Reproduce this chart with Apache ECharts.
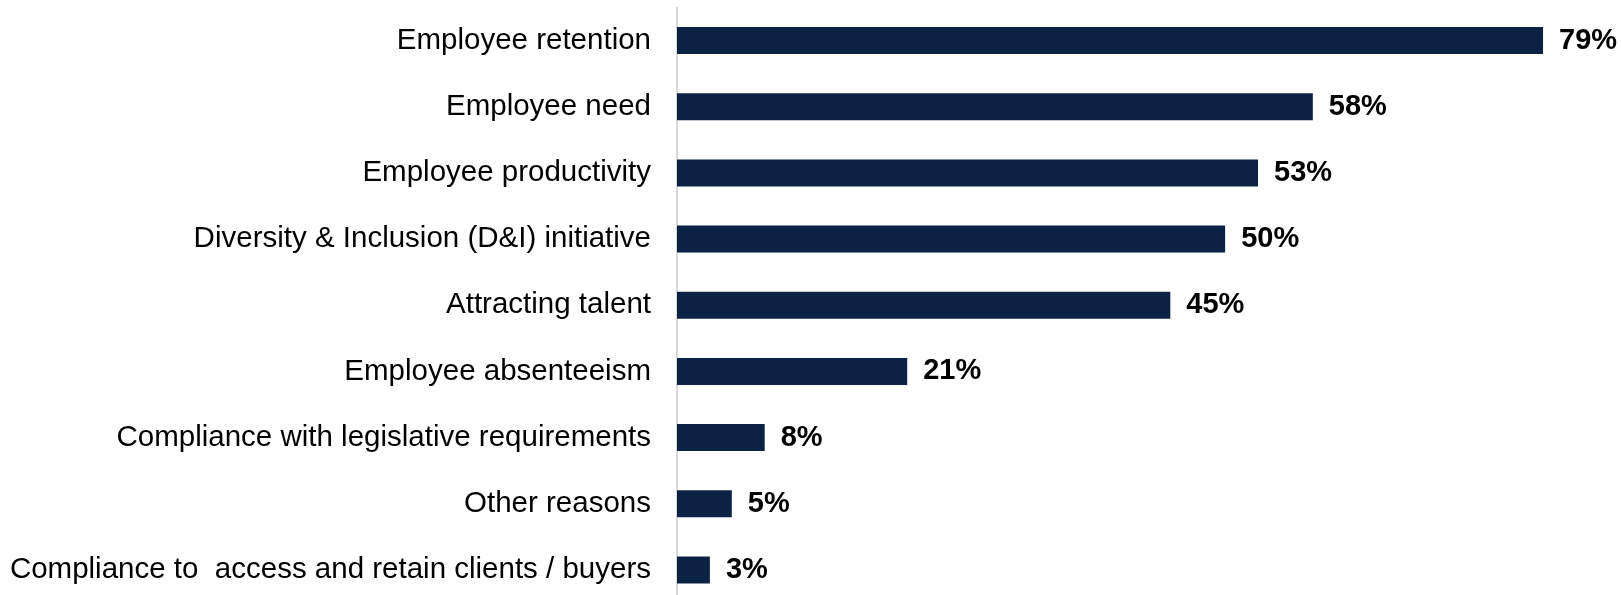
<!DOCTYPE html>
<html>
<head>
<meta charset="utf-8">
<script src="https://cdn.jsdelivr.net/npm/echarts@6/dist/echarts.min.js"></script>
<style>
  html, body { margin: 0; padding: 0; background: #ffffff; overflow: hidden; }
  #chart { width: 1621px; height: 620px; }
</style>
</head>
<body>
<div id="chart"></div>
<script>
// Reasons for offering the benefit (share of respondents)
const categories = [
  'Employee retention',
  'Employee need',
  'Employee productivity',
  'Diversity & Inclusion (D&I) initiative',
  'Attracting talent',
  'Employee absenteeism',
  'Compliance with legislative requirements',
  'Other reasons',
  'Compliance to  access and retain clients / buyers'
];
const shares = [79, 58, 53, 50, 45, 21, 8, 5, 3];

const chart = echarts.init(document.getElementById('chart'), null, { renderer: 'canvas' });

chart.setOption({
  animation: false,
  backgroundColor: '#ffffff',
  // the last row's band runs slightly past the bottom edge of the visible page
  grid: { left: 677, top: 7.5, width: 877, height: 595.5, containLabel: false },
  xAxis: {
    type: 'value',
    min: 0,
    max: 80,
    show: false
  },
  yAxis: {
    type: 'category',
    data: categories,
    inverse: true,
    axisLine: { show: true, lineStyle: { color: '#d9d9d9', width: 2 } },
    axisTick: { show: false },
    axisLabel: {
      margin: 26,
      color: '#000000',
      fontFamily: 'Liberation Sans, Arial, sans-serif',
      fontSize: 29.5
    },
    splitLine: { show: false }
  },
  series: [{
    type: 'bar',
    data: shares,
    barWidth: 27,
    itemStyle: { color: '#0c2244' },
    label: {
      show: true,
      position: 'right',
      distance: 16,
      formatter: '{c}%',
      color: '#000000',
      fontWeight: 'bold',
      fontFamily: 'Liberation Sans, Arial, sans-serif',
      fontSize: 29
    }
  }]
});
</script>
</body>
</html>
